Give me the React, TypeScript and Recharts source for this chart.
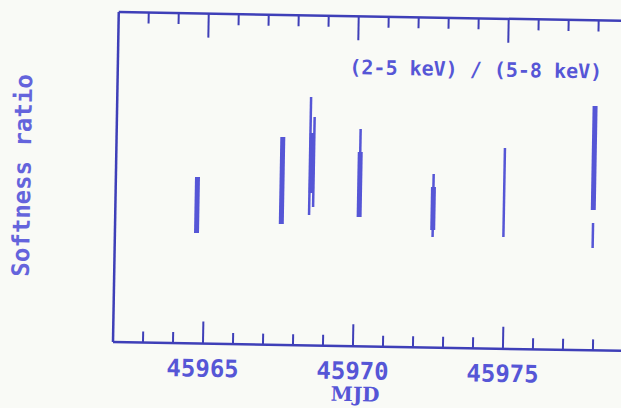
import React from "react";
import { ScatterChart, Scatter, XAxis, YAxis, ErrorBar } from "recharts";

// MJD tick positions (minor each day, labelled every 5)
const dayTicks = [45963, 45964, 45965, 45966, 45967, 45968, 45969, 45970, 45971, 45972, 45973, 45974, 45975, 45976, 45977, 45978];

// heavy error bars (overlapping measurements)
const thickDays = [45964.72, 45967.54, 45968.52, 45970.13, 45972.59, 45977.93];
const thickRatio = [1.385, 1.645, 1.825, 1.618, 1.391, 1.924];
const thickErr = [0.28, 0.435, 0.3, 0.325, 0.215, 0.52];

// thin error bars
const thinDays = [45968.46, 45968.59, 45970.13, 45972.59, 45974.95, 45977.93];
const thinRatio = [1.895, 1.835, 1.733, 1.421, 1.563, 1.149];
const thinErr = [0.59, 0.45, 0.44, 0.315, 0.445, 0.125];

const FRAME = "#3f3fb8";
const INK = "#5656d6";
const BG = "#f9faf6";
const FONT = "'DejaVu Sans Mono', 'Liberation Mono', monospace";

const thick = thickDays.map((d, i) => ({ mjd: d, ratio: thickRatio[i], err: thickErr[i] }));
const thin = thinDays.map((d, i) => ({ mjd: d, ratio: thinRatio[i], err: thinErr[i] }));

function BottomTick(props: any) {
  const { x, y, payload } = props;
  const major = payload.value % 5 === 0;
  return (
    <g>
      <line x1={x} x2={x} y1={y} y2={y - (major ? 22 : 11)} stroke={FRAME} strokeWidth={2} />
      {major && (
        <text x={x} y={y + 33} textAnchor="middle" fill={INK} fontFamily={FONT} fontWeight="bold" fontSize={24}>
          {payload.value}
        </text>
      )}
    </g>
  );
}

function TopTick(props: any) {
  const { x, y, payload } = props;
  const major = payload.value % 5 === 0;
  return <line x1={x} x2={x} y1={y} y2={y + (major ? 24 : 11)} stroke={FRAME} strokeWidth={2} />;
}

const hidden = () => <g />;

export default function App(): JSX.Element {
  return (
    <div style={{ position: "fixed", left: 0, top: 0, width: 621, height: 408, background: BG, overflow: "hidden" }}>
      <div style={{ position: "absolute", left: 8, top: 8, width: 640, height: 400, transform: "rotate(1deg)", transformOrigin: "105px 334px" }}>
        <ScatterChart width={640} height={400} margin={{ top: 0, right: 25, bottom: 6, left: 0 }}>
          <XAxis
            xAxisId={0}
            type="number"
            dataKey="mjd"
            domain={[45962, 45979]}
            allowDataOverflow
            ticks={dayTicks}
            tickSize={0}
            tickMargin={0}
            height={60}
            axisLine={{ stroke: FRAME, strokeWidth: 2.5 }}
            tickLine={false}
            tick={(p: any) => <BottomTick {...p} />}
            interval={0}
            label={{ value: "MJD", position: "insideBottom", offset: 5, dx: -12, fill: INK, fontFamily: "'DejaVu Serif', serif", fontWeight: "bold", fontSize: 20 }}
          />
          <XAxis
            xAxisId="top"
            orientation="top"
            type="number"
            dataKey="mjd"
            domain={[45962, 45979]}
            allowDataOverflow
            ticks={dayTicks}
            tickSize={0}
            tickMargin={0}
            height={4}
            axisLine={{ stroke: FRAME, strokeWidth: 2.5 }}
            tickLine={false}
            tick={(p: any) => <TopTick {...p} />}
            interval={0}
          />
          <YAxis
            type="number"
            dataKey="ratio"
            domain={[0, 3.3]}
            allowDataOverflow
            width={105}
            tick={false}
            tickLine={false}
            axisLine={{ stroke: FRAME, strokeWidth: 2.5 }}
            label={{
              value: "Softness ratio",
              angle: -90,
              position: "insideLeft",
              offset: 11,
              style: { textAnchor: "middle" },
              fill: "#6464dc",
              fontFamily: FONT,
              fontWeight: "bold",
              fontSize: 24,
            }}
          />
          <Scatter data={thick} dataKey="ratio" shape={hidden} isAnimationActive={false}>
            <ErrorBar dataKey="err" direction="y" width={0} stroke={INK} strokeWidth={5} isAnimationActive={false} />
          </Scatter>
          <Scatter data={thin} dataKey="ratio" shape={hidden} isAnimationActive={false}>
            <ErrorBar dataKey="err" direction="y" width={0} stroke={INK} strokeWidth={2.5} isAnimationActive={false} />
          </Scatter>
        </ScatterChart>
        <div
          style={{
            position: "absolute",
            left: 333,
            top: 43,
            width: 260,
            textAlign: "center",
            lineHeight: "24px",
            fontSize: 20,
            fontWeight: "bold",
            fontFamily: FONT,
            color: INK,
            whiteSpace: "nowrap",
          }}
        >
          (2-5 keV) / (5-8 keV)
        </div>
      </div>
    </div>
  );
}
